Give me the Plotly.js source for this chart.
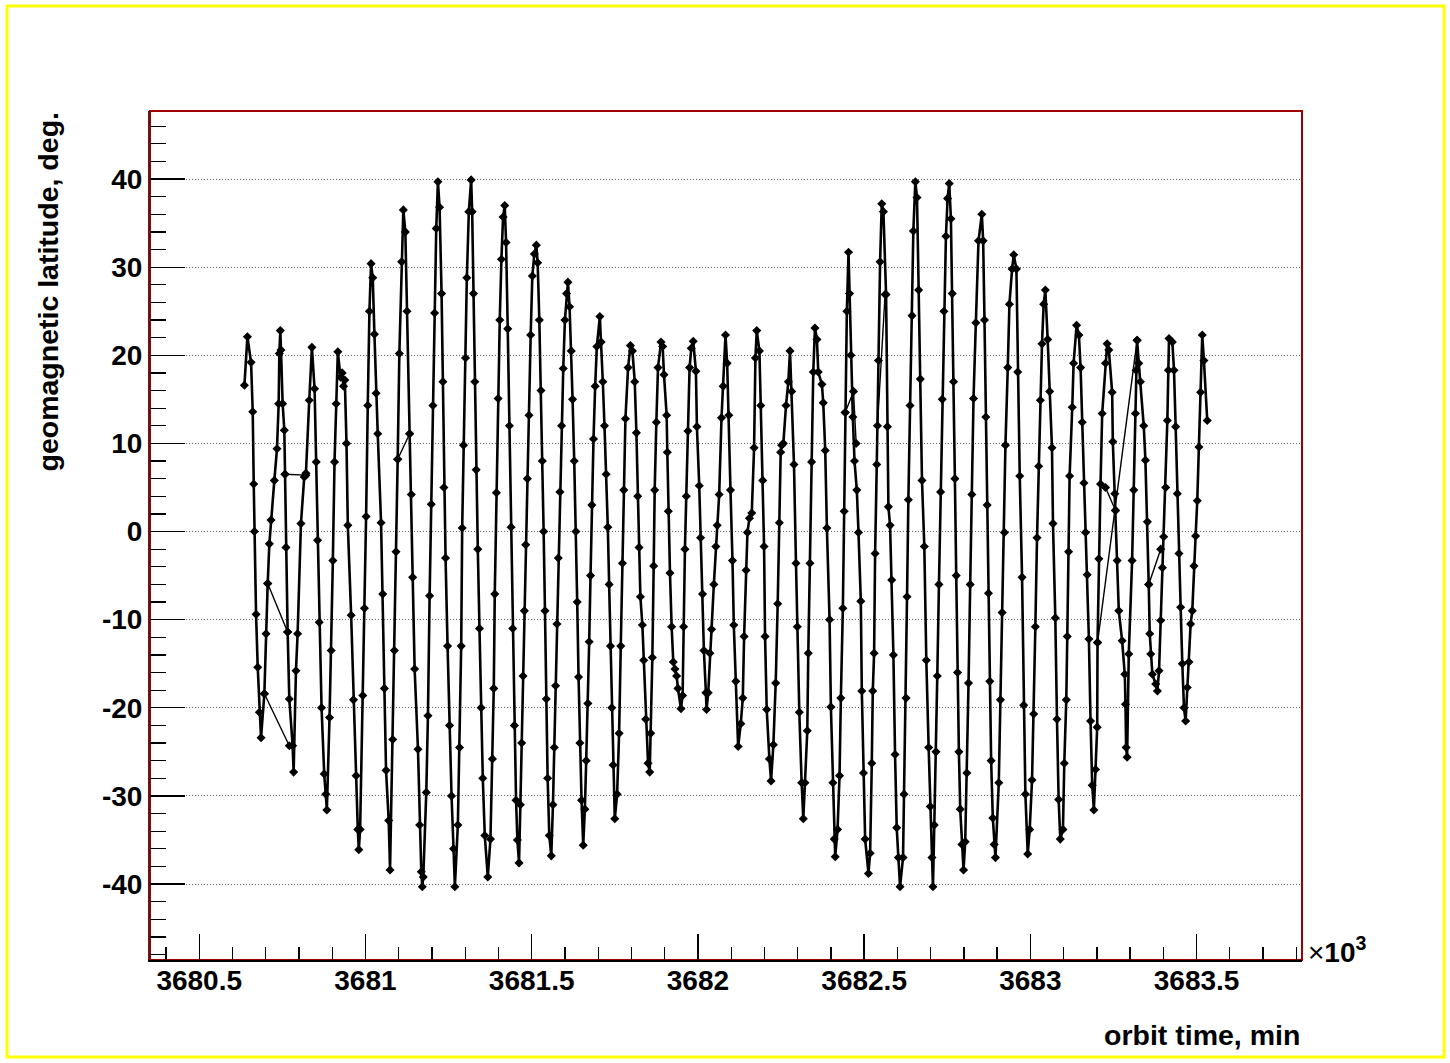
<!DOCTYPE html>
<html>
<head>
<meta charset="utf-8">
<script src="https://cdn.plot.ly/plotly-3.0.1.min.js"></script>
<style>
html,body{margin:0;padding:0;background:#fff;overflow:hidden;}
#chart{width:1450px;height:1063px;}
</style>
</head>
<body>
<div id="chart"></div>
<script>
// orbit time (x10^3 min) and geomagnetic latitude (deg), in drawing order
const orbitTime = [
3680.636,3680.645,3680.656,3680.661,3680.664,3680.666,3680.671,3680.676,3680.681,3680.686,
3680.696,3680.701,3680.706,3680.711,3680.716,3680.726,3680.734,3680.739,3680.741,3680.744,
3680.746,3680.751,3680.756,3680.758,3680.761,3680.766,3680.771,3680.781,3680.784,
3680.791,3680.796,3680.806,3680.816,3680.821,3680.831,3680.839,
3680.847,3680.852,3680.856,3680.861,3680.868,3680.876,3680.881,3680.884,
3680.892,3680.897,3680.902,3680.907,3680.912,3680.917,3680.925,3680.930,3680.934,3680.938,
3680.943,3680.947,3680.957,3680.964,3680.972,3680.977,3680.980,
3680.984,3680.992,3680.997,3681.002,3681.007,3681.012,3681.017,
3681.022,3681.027,3681.032,3681.037,3681.047,3681.052,3681.057,3681.062,3681.070,3681.074,
3681.082,3681.087,3681.092,3681.097,3681.102,3681.109,3681.114,
3681.120,3681.125,3681.133,3681.138,3681.142,3681.148,3681.158,3681.163,3681.168,3681.171,
3681.174,3681.183,3681.188,3681.193,3681.198,3681.203,3681.208,3681.213,3681.218,
3681.223,3681.229,3681.233,3681.236,3681.241,3681.247,3681.253,3681.259,3681.265,3681.269,
3681.278,3681.283,3681.288,3681.291,3681.295,3681.301,3681.305,3681.311,3681.318,
3681.321,3681.325,3681.329,3681.333,3681.338,3681.343,3681.348,3681.353,3681.359,3681.368,
3681.376,3681.382,3681.386,3681.389,3681.394,3681.399,3681.404,3681.409,3681.414,3681.419,
3681.423,3681.428,3681.433,3681.438,3681.443,3681.448,3681.453,3681.457,3681.462,
3681.466,3681.470,3681.474,3681.478,3681.482,3681.487,3681.492,3681.497,3681.502,3681.508,3681.514,
3681.518,3681.523,3681.528,3681.532,3681.536,3681.540,3681.544,3681.548,3681.553,3681.559,
3681.564,3681.568,3681.572,3681.576,3681.580,3681.585,3681.590,3681.595,3681.600,3681.605,3681.609,
3681.614,3681.619,3681.623,3681.628,3681.633,3681.637,3681.641,3681.645,3681.650,3681.655,
3681.660,3681.664,3681.669,3681.673,3681.677,3681.681,3681.686,3681.691,3681.696,3681.705,
3681.709,3681.714,3681.719,3681.724,3681.729,3681.733,3681.737,3681.741,3681.745,3681.750,
3681.757,3681.763,3681.768,3681.773,3681.777,3681.782,3681.790,3681.797,
3681.803,3681.810,3681.815,3681.819,3681.823,3681.827,3681.833,3681.837,3681.843,3681.850,3681.855,
3681.858,3681.863,3681.867,3681.870,3681.875,3681.880,3681.889,
3681.894,3681.898,3681.906,3681.908,3681.911,3681.916,3681.921,3681.926,3681.931,3681.936,3681.940,3681.949,
3681.954,3681.957,3681.961,3681.965,3681.970,3681.975,3681.980,3681.986,
3681.994,3681.997,3682.004,3682.008,3682.014,3682.018,3682.024,3682.026,
3682.031,3682.036,3682.041,3682.048,3682.054,3682.058,3682.064,3682.071,3682.076,3682.083,
3682.088,3682.093,3682.098,3682.104,3682.108,3682.114,3682.121,
3682.129,3682.135,3682.139,3682.145,3682.149,3682.155,3682.162,3682.169,3682.173,3682.177,
3682.185,3682.189,3682.195,3682.199,3682.202,3682.207,3682.215,3682.220,
3682.227,3682.234,3682.240,3682.245,3682.249,3682.252,3682.257,3682.265,3682.272,3682.277,
3682.282,3682.289,3682.295,3682.299,3682.305,3682.312,3682.317,
3682.322,3682.329,3682.332,3682.337,3682.342,3682.347,3682.352,
3682.358,3682.362,3682.373,3682.377,3682.383,3682.388,3682.396,3682.400,3682.406,3682.410,3682.413,
3682.420,3682.426,3682.430,3682.436,3682.440,3682.443,3682.448,3682.453,
3682.456,3682.460,3682.466,3682.471,3682.478,3682.483,3682.490,3682.493,3682.498,3682.503,3682.513,
3682.518,3682.523,3682.526,3682.530,3682.533,3682.538,3682.543,3682.548,3682.553,
3682.558,3682.566,3682.570,3682.573,3682.578,3682.583,3682.588,3682.593,3682.598,3682.603,3682.608,
3682.617,3682.620,3682.626,3682.629,3682.633,3682.638,3682.644,3682.648,3682.654,
3682.659,3682.664,3682.669,3682.674,3682.681,3682.687,3682.694,3682.699,3682.704,3682.707,
3682.711,3682.716,3682.720,3682.725,3682.730,3682.735,3682.740,3682.746,3682.751,3682.756,
3682.761,3682.765,3682.769,3682.773,3682.777,3682.781,3682.785,3682.789,3682.794,3682.799,
3682.804,3682.809,3682.814,3682.819,3682.824,3682.829,3682.836,3682.844,3682.854,
3682.858,3682.862,3682.866,3682.870,3682.874,3682.878,3682.882,3682.887,3682.891,3682.895,
3682.905,3682.910,3682.915,3682.922,3682.925,3682.932,3682.937,3682.945,3682.950,
3682.958,3682.962,3682.968,3682.975,3682.980,3682.985,3682.992,
3682.998,3683.005,3683.010,3683.015,3683.020,3683.025,3683.030,3683.035,3683.040,3683.045,
3683.052,3683.058,3683.065,3683.068,3683.075,3683.080,3683.085,3683.090,
3683.098,3683.102,3683.108,3683.111,3683.115,3683.118,3683.126,3683.130,3683.139,
3683.146,3683.151,3683.156,3683.161,3683.166,3683.171,3683.176,3683.181,3683.186,3683.191,
3683.196,3683.201,3683.202,3683.206,3683.211,3683.216,3683.226,3683.231,
3683.236,3683.246,3683.248,3683.254,3683.256,3683.261,3683.266,3683.276,3683.284,3683.286,3683.288,3683.291,
3683.296,3683.306,3683.311,3683.316,3683.318,3683.321,
3683.326,3683.331,3683.341,3683.346,3683.352,3683.356,3683.359,3683.362,3683.367,3683.377,3683.382,
3683.387,3683.392,3683.397,3683.401,3683.407,3683.412,3683.415,3683.417,
3683.427,3683.432,3683.437,3683.442,3683.447,3683.452,3683.457,3683.462,3683.467,
3683.472,3683.477,3683.482,3683.487,3683.492,3683.497,3683.502,3683.507,3683.512,3683.517,3683.522,3683.532
];
const geoLat = [
16.6,22.1,19.2,13.6,5.4,0.0,-9.4,-15.4,-20.5,-23.4,
-18.4,-11.6,-5.9,-1.4,1.3,5.8,9.4,14.5,20.2,22.8,
20.6,14.5,11.5,6.5,-1.8,-11.4,-19.0,-24.3,-27.3,
-15.8,-11.6,0.9,6.2,6.6,14.9,20.9,
16.2,7.9,-1.0,-10.3,-20.0,-27.5,-29.8,-31.6,
-21.1,-13.5,-3.3,7.9,14.5,20.4,17.5,18.0,16.5,17.2,
10.0,0.7,-9.5,-19.1,-27.7,-33.8,-36.1,
-33.8,-18.6,-8.7,1.7,14.3,25.0,30.4,
28.8,22.4,15.7,11.1,1.0,-7.1,-17.8,-27.1,-32.8,-38.4,
-23.6,-13.5,-2.3,8.2,20.2,30.6,36.5,
34.0,25.0,11.1,4.2,-5.2,-15.6,-24.7,-33.3,-38.6,-40.3,
-39.2,-29.6,-20.9,-7.3,3.1,14.3,24.8,34.4,39.7,
36.8,27.0,17.0,5.0,-3.0,-13.0,-22.0,-30.0,-36.0,-40.3,
-33.3,-24.5,-13.0,0.4,9.8,19.7,28.8,36.3,39.9,
36.3,27.0,17.0,7.0,-2.0,-11.0,-20.0,-28.0,-34.5,-39.2,
-34.9,-25.8,-17.8,-7.1,4.4,15.1,24.0,30.9,35.7,37.0,
32.8,23.0,12.0,0.5,-11.0,-22.0,-30.5,-35.0,-37.6,
-31.0,-24.0,-16.4,-9.0,-1.5,6.0,13.2,22.3,29.0,31.5,32.5,
30.5,24.0,16.0,8.0,0.0,-9.0,-19.0,-28.0,-34.5,-36.8,
-31.0,-24.5,-17.5,-10.5,-3.0,4.5,12.0,18.5,24.0,27.0,28.3,
25.5,20.5,15.0,8.0,0.0,-8.0,-16.5,-24.0,-30.5,-35.6,
-31.5,-26.0,-19.5,-12.5,-5.0,3.0,10.5,16.5,21.0,24.4,
21.5,17.0,12.0,6.5,0.5,-6.0,-13.0,-20.0,-26.5,-32.6,
-29.8,-22.9,-13.0,-3.6,4.7,12.8,18.6,21.1,
20.5,17.0,11.2,4.0,-1.8,-7.4,-10.6,-14.6,-21.3,-26.3,-27.3,
-22.9,-14.3,-3.9,4.7,12.4,18.6,21.5,
21.0,17.8,13.2,9.0,2.3,-4.7,-10.8,-14.8,-15.6,-16.4,-17.8,-20.1,
-18.6,-10.8,-2.0,4.0,11.4,18.6,20.8,21.6,
18.2,11.9,5.2,-0.7,-7.1,-13.5,-18.3,-20.2,
-18.3,-13.8,-11.1,-6.0,-1.7,0.7,4.2,12.9,16.5,22.3,
19.1,13.2,4.7,-3.3,-10.6,-17.0,-24.4,
-21.8,-18.9,-11.9,-4.4,-0.1,1.5,2.1,9.5,19.7,22.8,
20.5,14.3,5.8,-1.7,-11.9,-20.2,-25.8,-28.3,
-24.2,-17.2,-8.2,1.0,9.0,9.8,10.0,14.3,17.0,20.5,
15.9,7.6,-3.6,-10.8,-20.5,-28.5,-32.6,
-28.5,-22.6,-13.8,-3.6,7.9,18.1,23.1,
21.8,18.1,16.7,14.6,9.2,0.4,-10.0,-19.9,-28.5,-34.9,-36.9,
-33.8,-27.7,-18.9,-8.7,2.3,13.5,25.0,31.7,
27.0,20.0,13.0,8.0,4.7,-0.1,-7.9,-18.1,-27.4,-34.9,-38.8,
-36.5,-26.3,-18.1,-13.8,-2.5,7.6,19.4,30.6,37.2,
36.3,26.9,11.9,2.8,0.7,-5.5,-14.0,-25.3,-33.6,-37.0,-40.3,
-37.0,-29.8,-18.9,-7.4,3.6,14.3,24.5,34.1,39.7,
37.9,27.4,17.3,5.8,-1.7,-14.6,-24.5,-31.2,-37.0,-40.3,
-33.3,-25.0,-16.4,-6.0,4.5,15.0,25.0,33.5,37.8,39.5,
35.5,27.0,17.0,6.0,-5.0,-16.0,-25.0,-31.5,-35.5,-38.4,
-35.2,-27.4,-17.2,-6.0,4.2,15.1,23.7,33.0,36.0,
33.0,24.0,13.0,3.0,-7.0,-17.0,-26.0,-32.5,-35.5,-37.0,
-28.5,-19.1,-9.2,-0.1,9.8,18.6,25.8,29.8,31.4,
29.8,18.1,6.3,-5.2,-19.7,-29.8,-36.6,
-33.8,-28.2,-20.7,-10.8,-0.7,7.4,14.9,21.3,25.8,27.4,
21.8,15.9,9.5,0.9,-9.8,-21.3,-30.4,-34.9,
-33.8,-26.3,-19.1,-11.9,-2.3,6.3,14.1,19.1,23.4,
22.3,18.6,12.4,5.5,-0.1,-4.9,-12.2,-21.5,-28.8,-31.6,
-27.0,-22.2,-12.6,-3.1,5.4,13.4,19.1,21.3,
20.6,15.8,10.2,4.3,2.4,-3.3,-9.0,-12.4,-16.2,-19.6,-24.5,-25.6,
-13.9,-3.3,4.7,13.4,18.3,21.7,
19.1,17.0,12.0,8.1,1.1,-6.0,-11.6,-13.9,-16.2,-17.3,-18.1,
-15.8,-10.1,-4.1,-0.6,5.0,12.6,18.3,21.9,
21.5,18.3,11.9,4.3,-2.5,-8.6,-15.0,-20.0,-21.5,
-17.7,-14.8,-10.5,-9.0,-3.9,-0.5,3.5,9.6,15.8,22.3,19.4,12.6
];
// out-of-order jumps in the record (separate pieces, null = break)
const jumpTime = [3680.706,3680.766,null,3680.696,3680.771,null,3680.758,3680.821,null,3681.097,3681.133,null,3682.443,3682.468,3682.476,null,3682.540,3682.563,null,3683.202,3683.321,null,3683.226,3683.256,null,3683.356,3683.392];
const jumpLat  = [-5.9,-11.4,null,-18.4,-24.3,null,6.5,6.4,null,8.2,11.1,null,13.5,15.9,10.0,null,12.0,26.9,null,-12.6,21.7,null,5.0,2.4,null,-6.0,-2.0];

const xTickVals = [3680.5,3681,3681.5,3682,3682.5,3683,3683.5];
const xTickText = ['3680.5','3681','3681.5','3682','3682.5','3683','3683.5'];
const yTickVals = [-40,-30,-20,-10,0,10,20,30,40];
const yTickText = ['-40','-30','-20','-10','0','10','20','30','40'];

if (orbitTime.length !== geoLat.length) console.error('length mismatch', orbitTime.length, geoLat.length);

const FONT = 'Liberation Sans, Arial, Helvetica, sans-serif';

const traces = [
  {x: orbitTime, y: geoLat, type: 'scatter', mode: 'lines+markers',
   line: {color: '#000', width: 2.6},
   marker: {symbol: 'diamond', size: 7, color: '#000'},
   hoverinfo: 'skip', showlegend: false},
  {x: jumpTime, y: jumpLat, type: 'scatter', mode: 'lines+markers', connectgaps: false,
   line: {color: '#000', width: 1.4},
   marker: {symbol: 'diamond', size: 7, color: '#000'},
   hoverinfo: 'skip', showlegend: false}
];

const layout = {
  width: 1450, height: 1063,
  margin: {l: 150, r: 148, t: 111, b: 103, pad: 0},
  paper_bgcolor: '#fff', plot_bgcolor: '#fff',
  showlegend: false,
  xaxis: {
    range: [3680.352, 3683.817], autorange: false,
    tickmode: 'array', tickvals: xTickVals, ticktext: xTickText,
    ticks: 'inside', ticklen: 26, tickwidth: 1.3, tickcolor: '#000',
    ticklabelstandoff: -6,
    minor: {tickmode: 'linear', tick0: 3680.5, dtick: 0.1, ticks: 'inside', ticklen: 13, tickwidth: 1.3, tickcolor: '#000', showgrid: false},
    showgrid: false, zeroline: false,
    showline: true, linecolor: '#000', linewidth: 2, mirror: false,
    tickfont: {family: FONT, size: 28, color: '#000', weight: 'bold'}
  },
  yaxis: {
    range: [-48.62, 47.72], autorange: false,
    tickmode: 'array', tickvals: yTickVals, ticktext: yTickText,
    ticks: 'inside', ticklen: 35, tickwidth: 1.3, tickcolor: '#000',
    minor: {tickmode: 'linear', tick0: 0, dtick: 2, ticks: 'inside', ticklen: 16, tickwidth: 1.3, tickcolor: '#000', showgrid: false},
    showgrid: true, gridcolor: '#666', gridwidth: 1, griddash: '1px,2px',
    zeroline: false,
    showline: true, linecolor: '#6a1414', linewidth: 2, mirror: false,
    tickfont: {family: FONT, size: 28, color: '#000', weight: 'bold'}
  },
  shapes: [
    {type: 'rect', xref: 'paper', yref: 'paper', x0: 0, x1: 1, y0: 0, y1: 1,
     line: {color: '#a00000', width: 2}, fillcolor: 'rgba(0,0,0,0)', layer: 'below'},
    {type: 'rect', xref: 'paper', yref: 'paper', x0: -0.1241, x1: 1.1233, y0: -0.1143, y1: 1.1237,
     line: {color: '#ffff00', width: 3}, fillcolor: 'rgba(0,0,0,0)', layer: 'above'}
  ],
  annotations: [
    {text: 'orbit time, min', xref: 'paper', yref: 'paper', x: 1, y: -0.0883,
     xanchor: 'right', yanchor: 'middle', showarrow: false,
     font: {family: FONT, size: 28.5, color: '#000', weight: 'bold'}},
    {text: 'geomagnetic latitude, deg.', xref: 'paper', yref: 'paper', x: -0.0894, y: 1,
     xanchor: 'center', yanchor: 'top', textangle: -90, showarrow: false,
     font: {family: FONT, size: 28.5, color: '#000', weight: 'bold'}},
    {text: '×<b>10<sup>3</sup></b>', xref: 'paper', yref: 'paper', x: 1.0035, y: 0.012,
     xanchor: 'left', yanchor: 'middle', showarrow: false,
     font: {family: FONT, size: 28, color: '#000'}}
  ]
};

Plotly.newPlot('chart', traces, layout, {staticPlot: true, displayModeBar: false});
</script>
</body>
</html>
